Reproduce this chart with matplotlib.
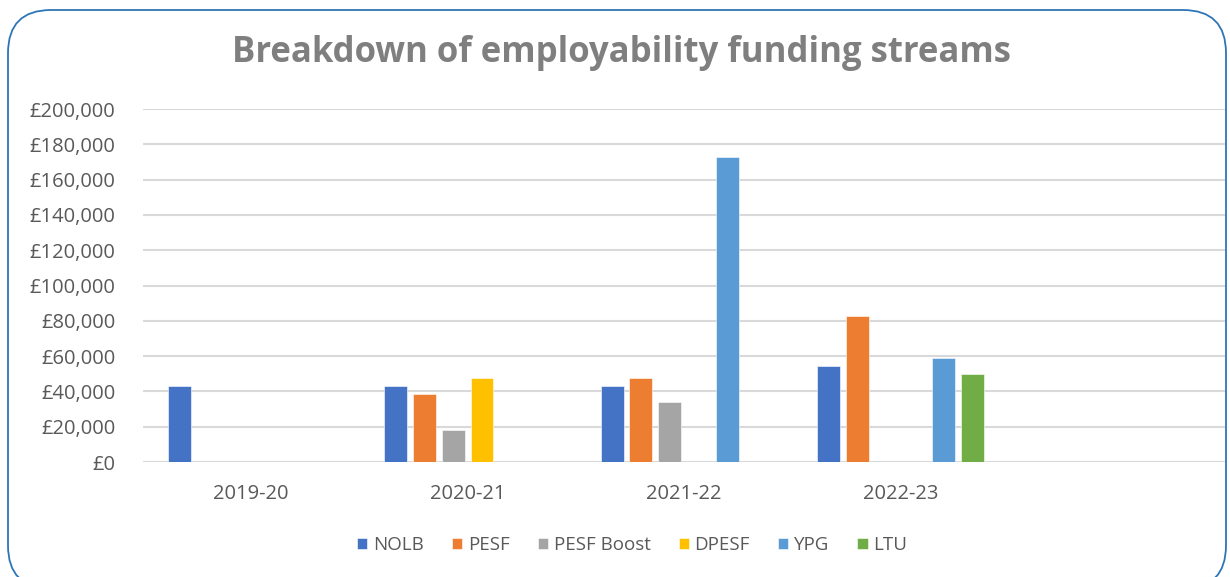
import matplotlib.pyplot as plt
from matplotlib.patches import FancyBboxPatch
from matplotlib.ticker import FuncFormatter
import numpy as np

# Données
years = ['2019-20', '2020-21', '2021-22', '2022-23', '']
series = ['NOLB', 'PESF', 'PESF Boost', 'DPESF', 'YPG', 'LTU']
nolb = [43000, 43000, 43000, 54500, None]
pesf = [None, 38500, 47500, 82500, None]
pesf_boost = [None, 18000, 34000, None, None]
dpesf = [None, 47500, None, None, None]
ypg = [None, None, 173000, 59000, None]
ltu = [None, None, None, 50000, None]
values = [nolb, pesf, pesf_boost, dpesf, ypg, ltu]
colors = ['#4472C4', '#ED7D31', '#A5A5A5', '#FFC000', '#5B9BD5', '#70AD47']

plt.rcParams['font.family'] = ['Open Sans', 'DejaVu Sans']

fig = plt.figure(figsize=(12.3, 5.77), dpi=100)
ax = fig.add_axes([143 / 1230, (577 - 462) / 577, (1225 - 143) / 1230, (462 - 109) / 577])

x = np.arange(len(years))
step = 0.133
width = 0.106
for i, (name, vals, c) in enumerate(zip(series, values, colors)):
    pos = x + (i - 2.5) * step
    h = [np.nan if v is None else v for v in vals]
    ax.bar(pos, h, width=width, color=c, label=name, edgecolor='white', linewidth=0.4, zorder=3)

ax.set_xlim(-0.5, len(years) - 0.5)
ax.set_ylim(0, 200000)
ax.set_yticks(range(0, 200001, 20000))
ax.yaxis.set_major_formatter(FuncFormatter(lambda v, p: f'£{int(v):,}'))
ax.set_xticks(x)
ax.set_xticklabels(years)
ax.grid(axis='y', color='#D9D9D9', linewidth=1.5, zorder=0)
for s in ax.spines.values():
    s.set_visible(False)
ax.tick_params(axis='both', length=0, colors='#595959', labelsize=14.5)
ax.tick_params(axis='y', pad=20)
ax.tick_params(axis='x', pad=16)

fig.text(0.505, 0.909, 'Breakdown of employability funding streams', ha='center', va='center',
         fontsize=25, fontweight='bold', color='#7F7F7F')

fig.legend(loc='center', bbox_to_anchor=(0.514, 0.055), ncol=6, frameon=False, fontsize=13.5,
           handlelength=0.55, handleheight=0.55, handletextpad=0.3, columnspacing=1.5, labelcolor='#595959')

# cadre arrondi bleu
frame = FancyBboxPatch((8 / 1230, -0.02), (1226 - 8) / 1230, (577 - 10) / 577 + 0.02,
                       boxstyle='round,pad=0,rounding_size=0.035', transform=fig.transFigure,
                       fill=False, edgecolor='#2E75B6', linewidth=1.3, mutation_aspect=1230 / 577)
fig.patches.append(frame)

fig.savefig('out.png', dpi=100)
